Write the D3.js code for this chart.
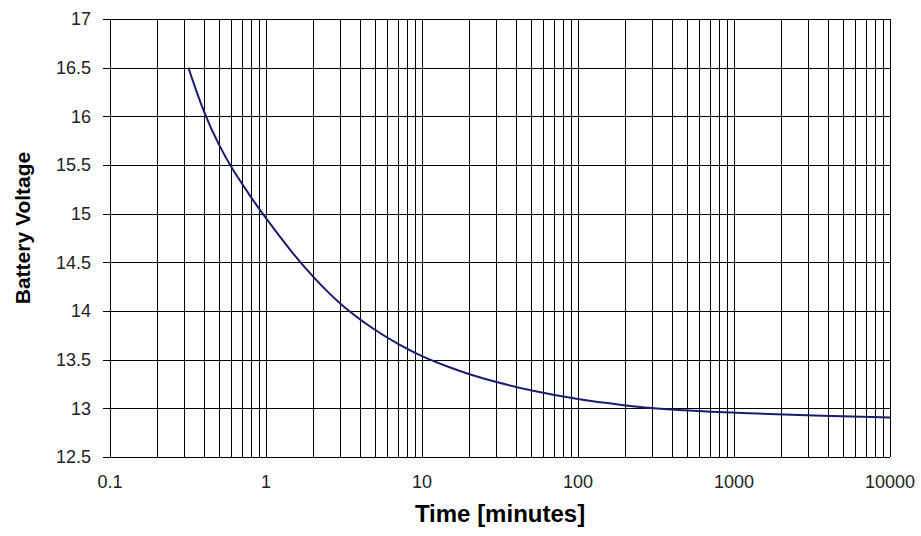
<!DOCTYPE html>
<meta charset="utf-8">
<script src="https://d3js.org/d3.v7.min.js"></script>
<style>
  body { margin: 0; background: #fff; }
  text { font-family: "Liberation Sans", Arial, sans-serif; }
</style>
<div id="chart"></div>
<script>
// discharge curve
var timeMin = [0.318, 0.4, 0.5, 0.6, 0.8, 1, 1.5, 2, 3, 5, 7, 10, 15, 20, 30, 50, 100, 200, 300, 400, 1000, 2000, 10000];
var voltage = [16.5, 16.03, 15.7, 15.47, 15.17, 14.95, 14.58, 14.35, 14.06, 13.8, 13.66, 13.53, 13.42, 13.35, 13.27, 13.18, 13.09, 13.03, 13.0, 12.985, 12.955, 12.935, 12.905];
var xTickLabels = ["0.1", "1", "10", "100", "1000", "10000"];
var yTickLabels = ["12.5", "13", "13.5", "14", "14.5", "15", "15.5", "16", "16.5", "17"];

var width = 921, height = 536;
var margin = {top: 19, right: 31, bottom: 79, left: 110};

var svg = d3.select("#chart").append("svg")
  .attr("width", width)
  .attr("height", height);

var x = d3.scaleLog()
  .domain([0.1, 10000])
  .range([margin.left, width - margin.right]);

var y = d3.scaleLinear()
  .domain([12.5, 17])
  .range([height - margin.bottom, margin.top]);

// vertical grid: every 1..9 in each decade
svg.append("g")
  .selectAll("line")
  .data(x.ticks())
  .join("line")
    .attr("x1", function(d){ return Math.round(x(d)) + 0.5 })
    .attr("x2", function(d){ return Math.round(x(d)) + 0.5 })
    .attr("y1", y(17))
    .attr("y2", y(12.5))
    .attr("stroke", "#000")
    .attr("stroke-width", 1);

// horizontal grid with small tick stub on the left
svg.append("g")
  .selectAll("line")
  .data(yTickLabels)
  .join("line")
    .attr("x1", margin.left - 7)
    .attr("x2", width - margin.right)
    .attr("y1", function(d){ return Math.round(y(+d)) + 0.5 })
    .attr("y2", function(d){ return Math.round(y(+d)) + 0.5 })
    .attr("stroke", "#000")
    .attr("stroke-width", 1);

// y tick labels
svg.append("g")
  .selectAll("text")
  .data(yTickLabels)
  .join("text")
    .attr("x", margin.left - 19)
    .attr("y", function(d){ return y(+d) })
    .attr("dy", "0.35em")
    .attr("text-anchor", "end")
    .style("font-size", "18px")
    .style("fill", "#222")
    .text(function(d){ return d });

// x tick labels
svg.append("g")
  .selectAll("text")
  .data(xTickLabels)
  .join("text")
    .attr("x", function(d){ return x(+d) })
    .attr("y", 488)
    .attr("text-anchor", "middle")
    .style("font-size", "18px")
    .style("fill", "#222")
    .text(function(d){ return d });

// curve
var pts = timeMin.map(function(t, i){ return [t, voltage[i]] });
var line = d3.line()
  .x(function(d){ return x(d[0]) })
  .y(function(d){ return y(d[1]) })
  .curve(d3.curveBasis);

svg.append("path")
  .datum(pts)
  .attr("d", line)
  .attr("fill", "none")
  .attr("stroke", "#1c1c6e")
  .attr("stroke-width", 2);

// axis titles
svg.append("text")
  .attr("x", (margin.left + width - margin.right) / 2)
  .attr("y", 522)
  .attr("text-anchor", "middle")
  .style("font-size", "24px")
  .style("font-weight", "bold")
  .text("Time [minutes]");

svg.append("text")
  .attr("transform", "translate(30,228) rotate(-90)")
  .attr("text-anchor", "middle")
  .style("font-size", "21px")
  .style("font-weight", "bold")
  .text("Battery Voltage");
</script>
